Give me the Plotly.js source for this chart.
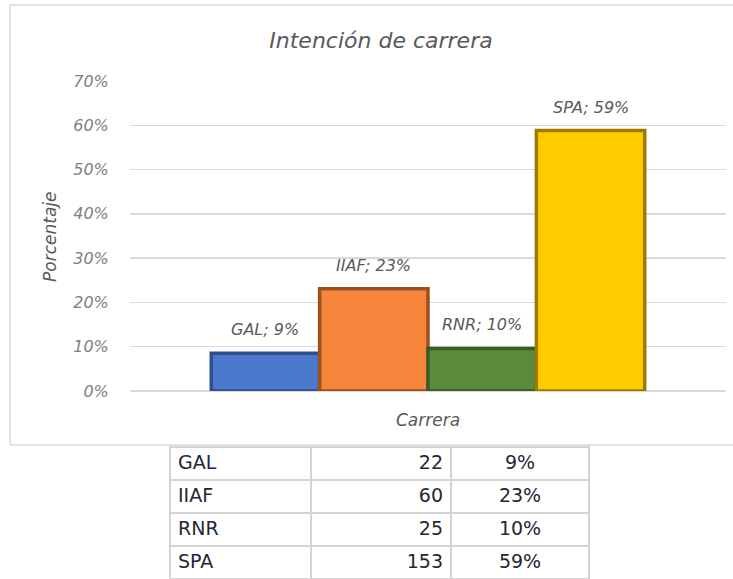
<!DOCTYPE html>
<html><head><meta charset="utf-8">
<script src="https://cdn.plot.ly/plotly-3.0.1.min.js"></script>
<style>html,body{margin:0;padding:0;background:#fff;overflow:hidden}</style>
</head><body><div id="chart" style="width:733px;height:579px"></div>
<script>
const carreras = ["GAL", "IIAF", "RNR", "SPA"];
const estudiantes = [22, 60, 25, 153];
const porcentajes = [8.5, 23.1, 9.6, 58.8];
const etiquetasPct = ["9%", "23%", "10%", "59%"];
const yTicks = [0, 10, 20, 30, 40, 50, 60, 70];
const yTickText = ["0%", "10%", "20%", "30%", "40%", "50%", "60%", "70%"];
const colores = ["#4A78CC", "#F5853A", "#5A8A3A", "#FFCC00"];
const bordes = ["#2F4F8A", "#9C5020", "#3A5A26", "#A07A00"];

const W = 733, H = 579;
const px = x => x / W;
const py = y => 1 - y / H;
const gris = "#595959";
const fam = "DejaVu Sans";

const barras = {
  type: "bar",
  x: carreras,
  y: porcentajes,
  marker: { color: colores, line: { color: bordes, width: 3.5 } },
  hoverinfo: "none",
  showlegend: false
};

const tabla = {
  type: "table",
  domain: { x: [px(170), px(589)], y: [0, py(447)] },
  columnwidth: [141, 140, 138],
  header: {
    values: [carreras[0], String(estudiantes[0]), etiquetasPct[0]],
    align: ["left", "right", "center"],
    height: 33,
    line: { color: "#D4D4D4", width: 2.5 },
    fill: { color: "#FFFFFF" },
    font: { family: fam, size: 19, color: "#262636" }
  },
  cells: {
    values: [carreras.slice(1), estudiantes.slice(1).map(String), etiquetasPct.slice(1)],
    align: ["left", "right", "center"],
    height: 33,
    line: { color: "#D4D4D4", width: 2.5 },
    fill: { color: "#FFFFFF" },
    font: { family: fam, size: 19, color: "#262636" }
  }
};

const etiquetas = carreras.map((c, i) => ({
  x: c, y: porcentajes[i], xref: "x", yref: "y",
  text: c + "; " + etiquetasPct[i],
  showarrow: false, yanchor: "bottom", yshift: 12,
  font: { family: fam, size: 16, color: gris, style: "italic" }
}));

const marco = { color: "#D9D9D9", width: 1.5 };

const layout = {
  width: W, height: H, autosize: false,
  margin: { l: 0, r: 0, t: 0, b: 0 },
  paper_bgcolor: "#FFFFFF", plot_bgcolor: "#FFFFFF",
  bargap: 0,
  title: {
    text: "Intención de carrera",
    x: px(381), xanchor: "center", xref: "paper",
    y: py(40), yanchor: "middle", yref: "paper",
    font: { family: fam, size: 22, color: gris, style: "italic" }
  },
  xaxis: {
    domain: [px(130), px(726)],
    type: "category",
    range: [-1.25, 4.25],
    showticklabels: false, showgrid: false, zeroline: false, showline: false,
    fixedrange: true
  },
  yaxis: {
    domain: [py(391), py(81)],
    range: [0, 70],
    tickvals: yTicks, ticktext: yTickText,
    ticks: "outside", ticklen: 17, tickcolor: "rgba(0,0,0,0)",
    tickfont: { family: fam, size: 16, color: "#7F7F7F", style: "italic" },
    showgrid: true, gridcolor: "#D9D9D9", gridwidth: 1.5,
    zeroline: true, zerolinecolor: "#D9D9D9", zerolinewidth: 1.5,
    showline: false, fixedrange: true
  },
  annotations: etiquetas.concat([
    { x: px(50), y: py(237), xref: "paper", yref: "paper", text: "Porcentaje",
      xanchor: "center", yanchor: "middle",
      textangle: -90, showarrow: false,
      font: { family: fam, size: 17, color: gris, style: "italic" } },
    { x: px(428), y: py(420), xref: "paper", yref: "paper", text: "Carrera",
      xanchor: "center", yanchor: "middle",
      showarrow: false,
      font: { family: fam, size: 17, color: gris, style: "italic" } }
  ]),
  shapes: [
    { type: "line", xref: "paper", yref: "paper", x0: px(10), x1: 1.02, y0: py(5), y1: py(5), line: marco, layer: "below" },
    { type: "line", xref: "paper", yref: "paper", x0: px(10), x1: px(10), y0: py(5), y1: py(445), line: marco, layer: "below" },
    { type: "line", xref: "paper", yref: "paper", x0: px(10), x1: 1.02, y0: py(445), y1: py(445), line: marco, layer: "below" }
  ]
};

Plotly.newPlot("chart", [barras, tabla], layout, { displayModeBar: false, staticPlot: true });
</script>
</body></html>
